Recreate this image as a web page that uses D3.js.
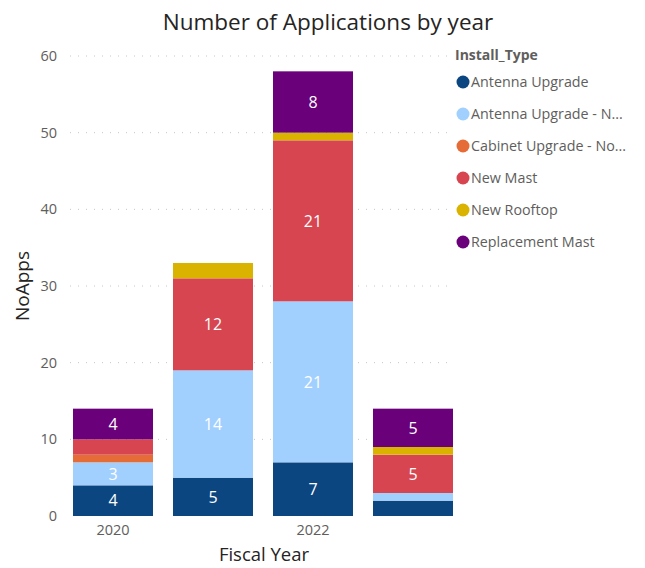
<!DOCTYPE html>
<html>
<head>
<meta charset="utf-8">
<script src="https://cdn.jsdelivr.net/npm/d3@7"></script>
<style>
  body { margin: 0; background: #fff; font-family: "Segoe UI", "Open Sans", sans-serif; }
</style>
</head>
<body>
<script>
const width = 645;
const height = 568;

// Data
const years = ["2020", "2021", "2022", "2023"];
const yearLabels = ["2020", "", "2022", ""];
const seriesNames = ["Antenna Upgrade", "Antenna Upgrade - N...", "Cabinet Upgrade - No...", "New Mast", "New Rooftop", "Replacement Mast"];
const seriesColors = ["#0C4680", "#A1D0FF", "#E66C37", "#D64550", "#D9B300", "#6B007B"];
const antennaUpgrade = [4, 5, 7, 2];
const antennaUpgradeN = [3, 14, 21, 1];
const cabinetUpgrade = [1, 0, 0, 0];
const newMast = [2, 12, 21, 5];
const newRooftop = [0, 2, 1, 1];
const replacementMast = [4, 0, 8, 5];
const yTicks = [0, 10, 20, 30, 40, 50, 60];

const seriesValues = [antennaUpgrade, antennaUpgradeN, cabinetUpgrade, newMast, newRooftop, replacementMast];
const table = years.map((y, i) => {
  const row = { year: y };
  seriesNames.forEach((s, j) => row[s] = seriesValues[j][i]);
  return row;
});

const margin = { top: 56, left: 63, right: 182, bottom: 52 };

const svg = d3.select("body").append("svg")
  .attr("width", width)
  .attr("height", height);

const x = d3.scaleBand()
  .domain(years)
  .range([margin.left, width - margin.right])
  .paddingInner(0.2)
  .paddingOuter(0.1);

const y = d3.scaleLinear()
  .domain([0, 60])
  .range([height - margin.bottom, margin.top]);

const color = d3.scaleOrdinal().domain(seriesNames).range(seriesColors);

// Title
svg.append("text")
  .attr("x", 328)
  .attr("y", 30)
  .attr("text-anchor", "middle")
  .attr("font-size", 22.5)
  .attr("fill", "#252423")
  .text("Number of Applications by year");

// Grid lines (dotted)
svg.append("g")
  .selectAll("line")
  .data(yTicks.filter(d => d > 0))
  .join("line")
  .attr("x1", 70)
  .attr("x2", 452)
  .attr("y1", d => y(d))
  .attr("y2", d => y(d))
  .attr("stroke", "#C8C6C4")
  .attr("stroke-width", 1)
  .attr("stroke-dasharray", "1,7");

// Y axis
const yAxis = svg.append("g")
  .attr("transform", `translate(${margin.left - 4},0)`)
  .call(d3.axisLeft(y).tickValues(yTicks).tickSize(0).tickPadding(2));
yAxis.select(".domain").remove();
yAxis.selectAll("text")
  .attr("font-size", 14.5)
  .attr("fill", "#605E5C")
  .attr("font-family", "'Segoe UI', 'Open Sans', sans-serif");

// X axis
const xAxis = svg.append("g")
  .attr("transform", `translate(0,${height - margin.bottom})`)
  .call(d3.axisBottom(x).tickSize(0).tickPadding(9).tickFormat((d, i) => yearLabels[i]));
xAxis.select(".domain").remove();
xAxis.selectAll("text")
  .attr("font-size", 14.5)
  .attr("fill", "#605E5C")
  .attr("font-family", "'Segoe UI', 'Open Sans', sans-serif");

// Axis titles
svg.append("text")
  .attr("transform", `translate(29,${(margin.top + height - margin.bottom) / 2}) rotate(-90)`)
  .attr("text-anchor", "middle")
  .attr("font-size", 19)
  .attr("fill", "#252423")
  .text("NoApps");

svg.append("text")
  .attr("x", 264)
  .attr("y", 561)
  .attr("text-anchor", "middle")
  .attr("font-size", 18.5)
  .attr("fill", "#252423")
  .text("Fiscal Year");

// Stacked bars
const stacked = d3.stack().keys(seriesNames)(table);

const layers = svg.append("g")
  .selectAll("g")
  .data(stacked)
  .join("g")
  .attr("fill", d => color(d.key));

layers.selectAll("rect")
  .data(d => d.filter(p => p[1] - p[0] > 0))
  .join("rect")
  .attr("x", d => x(d.data.year))
  .attr("y", d => y(d[1]))
  .attr("width", x.bandwidth())
  .attr("height", d => y(d[0]) - y(d[1]));

// Data labels
layers.selectAll("text")
  .data(d => d.filter(p => p[1] - p[0] >= 3))
  .join("text")
  .attr("x", d => x(d.data.year) + x.bandwidth() / 2)
  .attr("y", d => (y(d[0]) + y(d[1])) / 2)
  .attr("dy", "0.36em")
  .attr("text-anchor", "middle")
  .attr("font-size", 16)
  .attr("fill", "#fff")
  .text(d => d[1] - d[0]);

// Legend
const legend = svg.append("g").attr("transform", "translate(455,0)");
legend.append("text")
  .attr("x", 0)
  .attr("y", 60)
  .attr("font-size", 14)
  .attr("font-weight", "bold")
  .attr("fill", "#605E5C")
  .text("Install_Type");

const items = legend.selectAll("g.item")
  .data(seriesNames)
  .join("g")
  .attr("class", "item")
  .attr("transform", (d, i) => `translate(0,${82 + i * 32})`);

items.append("circle")
  .attr("cx", 8)
  .attr("cy", 0)
  .attr("r", 6.5)
  .attr("fill", d => color(d));

items.append("text")
  .attr("x", 16)
  .attr("y", 0)
  .attr("dy", "0.35em")
  .attr("font-size", 14.3)
  .attr("fill", "#605E5C")
  .text(d => d);
</script>
</body>
</html>
